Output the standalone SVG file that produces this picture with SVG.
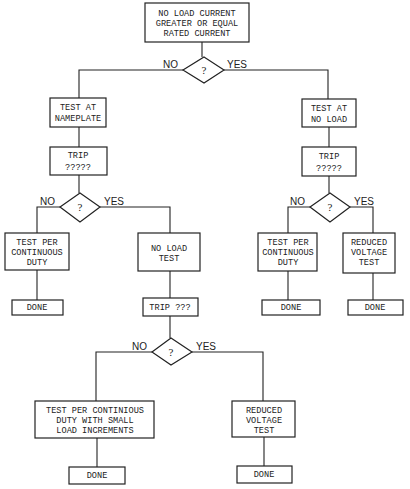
<svg xmlns="http://www.w3.org/2000/svg" width="410" height="489" viewBox="0 0 410 489">
<style>
.b{fill:#fff;stroke:#222;stroke-width:1.2}
.t{font-family:"Liberation Mono",monospace;font-size:8.6px;fill:#222;text-anchor:middle}
.l{font-family:"Liberation Sans",sans-serif;font-size:10px;fill:#222}
.q{font-family:"Liberation Serif",serif;font-size:11px;fill:#222;text-anchor:middle}
#connectors path{fill:none;stroke:#222;stroke-width:1.1}
</style>
<rect width="410" height="489" fill="#fff"/>
<g id="connectors">
<path d="M202 42V57"/>
<path d="M183 70H79V98"/>
<path d="M224 70H328V99"/>
<path d="M79 127V147"/>
<path d="M329 127V147"/>
<path d="M79 175V193"/>
<path d="M329 176V193"/>
<path d="M60 207H37V233"/>
<path d="M100 207H170V233"/>
<path d="M310 207H288V233"/>
<path d="M350 207H373V233"/>
<path d="M37 270V300"/>
<path d="M170 271V298"/>
<path d="M288 271V300"/>
<path d="M373 273V300"/>
<path d="M170 316V338"/>
<path d="M152 352H96V401"/>
<path d="M192 352H263V401"/>
<path d="M97 438V467"/>
<path d="M264 437V466"/>
</g>
<g id="start"><rect class="b" x="145" y="3" width="104" height="39"/>
<text class="t" x="197" y="16">NO LOAD CURRENT</text><text class="t" x="197" y="26">GREATER OR EQUAL</text><text class="t" x="197" y="36">RATED CURRENT</text></g>
<g id="d1"><polygon class="b" points="204,57 224,70 204,83 183,70"/><text class="q" x="204" y="74">?</text>
<text class="l" x="163" y="68">NO</text><text class="l" x="227" y="68">YES</text></g>
<g id="nameplate"><rect class="b" x="50" y="98" width="56" height="29"/><text class="t" x="78" y="110">TEST AT</text><text class="t" x="78" y="121">NAMEPLATE</text></g>
<g id="trip1"><rect class="b" x="50" y="147" width="57" height="28"/><text class="t" x="78" y="158">TRIP</text><text class="t" x="78" y="170">?????</text></g>
<g id="noload"><rect class="b" x="302" y="99" width="54" height="28"/><text class="t" x="329" y="111">TEST AT</text><text class="t" x="329" y="122">NO LOAD</text></g>
<g id="trip2"><rect class="b" x="302" y="147" width="54" height="29"/><text class="t" x="329" y="159">TRIP</text><text class="t" x="329" y="171">?????</text></g>
<g id="d2"><polygon class="b" points="80,193 100,207 80,222 60,207"/><text class="q" x="80" y="211">?</text>
<text class="l" x="40" y="205">NO</text><text class="l" x="104" y="205">YES</text></g>
<g id="d3"><polygon class="b" points="330,193 350,207 330,222 310,207"/><text class="q" x="330" y="211">?</text>
<text class="l" x="290" y="205">NO</text><text class="l" x="354" y="205">YES</text></g>
<g id="cont1"><rect class="b" x="5" y="233" width="64" height="37"/><text class="t" x="37" y="245">TEST PER</text><text class="t" x="37" y="255">CONTINUOUS</text><text class="t" x="37" y="265">DUTY</text></g>
<g id="noloadtest"><rect class="b" x="138" y="233" width="62" height="38"/><text class="t" x="169" y="251">NO LOAD</text><text class="t" x="169" y="261">TEST</text></g>
<g id="cont2"><rect class="b" x="258" y="233" width="59" height="38"/><text class="t" x="288" y="245">TEST PER</text><text class="t" x="288" y="255">CONTINUOUS</text><text class="t" x="288" y="265">DUTY</text></g>
<g id="reduced1"><rect class="b" x="343" y="233" width="52" height="40"/><text class="t" x="369" y="245">REDUCED</text><text class="t" x="369" y="255">VOLTAGE</text><text class="t" x="369" y="265">TEST</text></g>
<g id="done1"><rect class="b" x="12" y="300" width="51" height="15"/><text class="t" x="37" y="310">DONE</text></g>
<g id="trip3"><rect class="b" x="143" y="298" width="55" height="18"/><text class="t" x="170" y="310">TRIP ???</text></g>
<g id="done2"><rect class="b" x="262" y="300" width="58" height="15"/><text class="t" x="291" y="310">DONE</text></g>
<g id="done3"><rect class="b" x="348" y="300" width="55" height="15"/><text class="t" x="375" y="310">DONE</text></g>
<g id="d4"><polygon class="b" points="171,338 192,352 171,365 152,352"/><text class="q" x="171" y="356">?</text>
<text class="l" x="132" y="350">NO</text><text class="l" x="196" y="350">YES</text></g>
<g id="cont3"><rect class="b" x="35" y="401" width="119" height="37"/><text class="t" x="95" y="413">TEST PER CONTINIOUS</text><text class="t" x="95" y="423">DUTY WITH SMALL</text><text class="t" x="95" y="433">LOAD INCREMENTS</text></g>
<g id="reduced2"><rect class="b" x="232" y="401" width="63" height="36"/><text class="t" x="264" y="413">REDUCED</text><text class="t" x="264" y="423">VOLTAGE</text><text class="t" x="264" y="433">TEST</text></g>
<g id="done4"><rect class="b" x="69" y="467" width="56" height="17"/><text class="t" x="97" y="478">DONE</text></g>
<g id="done5"><rect class="b" x="237" y="466" width="55" height="17"/><text class="t" x="264" y="477">DONE</text></g>
</svg>
